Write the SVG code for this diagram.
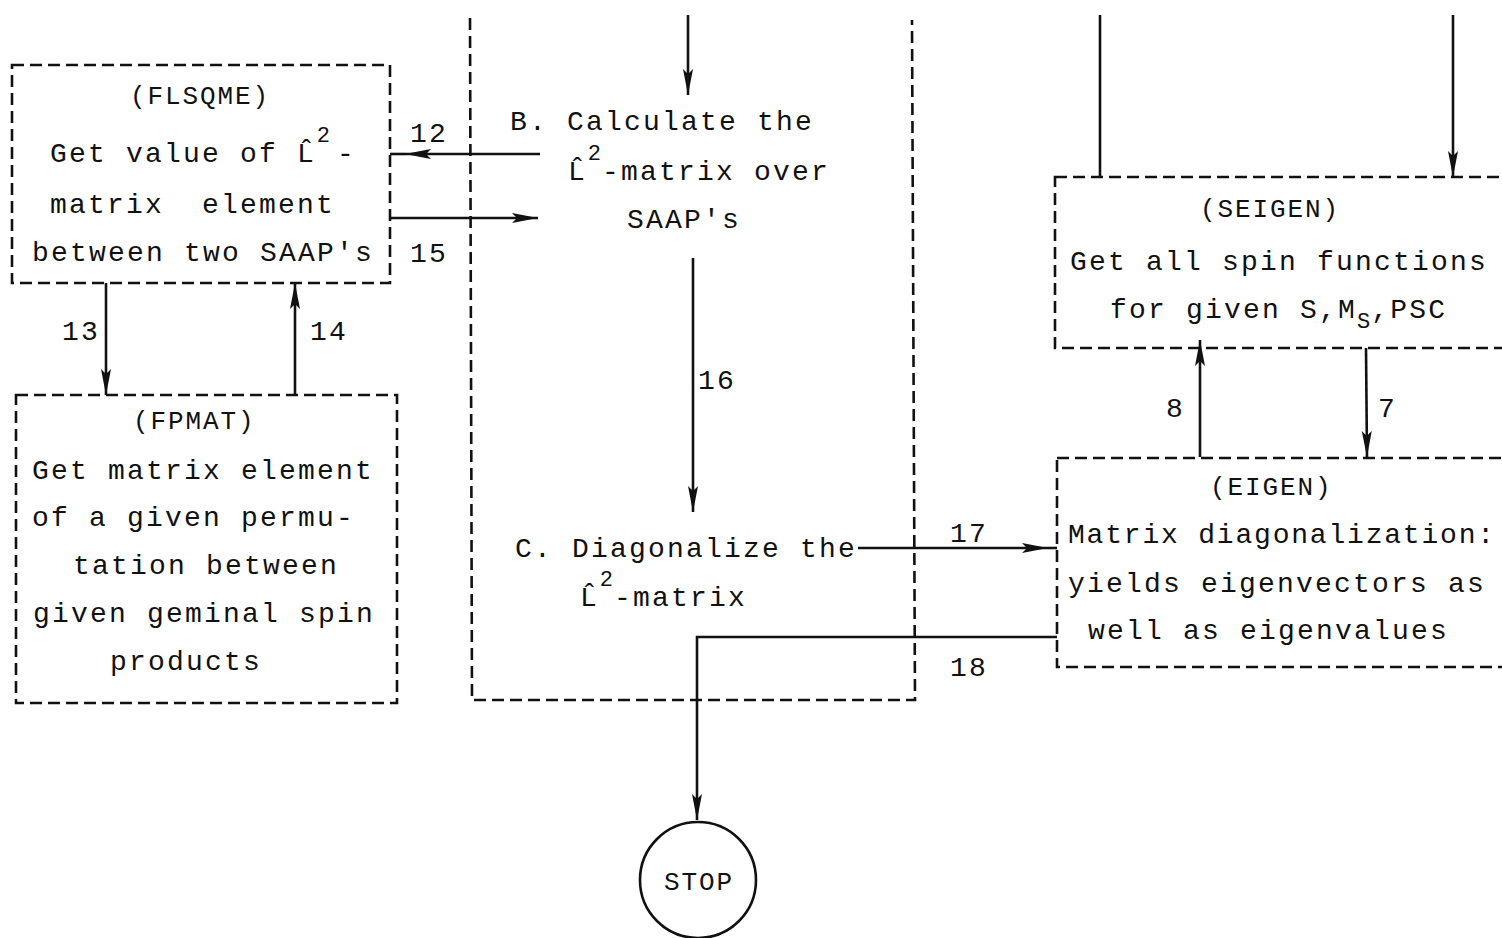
<svg xmlns="http://www.w3.org/2000/svg" width="1502" height="938" viewBox="0 0 1502 938">
<style>
.t{font-family:"Liberation Mono","DejaVu Sans Mono",monospace;font-size:28px;letter-spacing:2.2px;fill:#111;white-space:pre}
.n{font-family:"Liberation Mono","DejaVu Sans Mono",monospace;font-size:26px;letter-spacing:1.9px;fill:#111}
.sup{font-size:22px;letter-spacing:1px}
.l{letter-spacing:0}
.box{fill:none;stroke:#111;stroke-width:2.6;stroke-dasharray:12 6}
.c{fill:none;stroke:#111;stroke-width:2.6}
</style>
<defs>
<marker id="ah" markerUnits="userSpaceOnUse" markerWidth="28" markerHeight="12" refX="26" refY="6" orient="auto">
<path d="M0,1 L26,6 L0,11 L5,6 z" fill="#111"/>
</marker>
</defs>
<rect width="1502" height="938" fill="#fff"/>

<g id="flsqme">
<rect class="box" x="12" y="65" width="378" height="218"/>
<text class="n" x="130" y="104">(FLSQME)</text>
<text class="t" x="50" y="162">Get value of <tspan class="l">L&#x302;</tspan><tspan class="sup" dx="3" dy="-20">2</tspan><tspan dy="20" dx="6">-</tspan></text>
<text class="t" x="50" y="213" xml:space="preserve">matrix  element</text>
<text class="t" x="32" y="261">between two SAAP's</text>
</g>

<g id="fpmat">
<rect class="box" x="16" y="395" width="381" height="308"/>
<text class="n" x="133" y="429">(FPMAT)</text>
<text class="t" x="32" y="479">Get matrix element</text>
<text class="t" x="32" y="526">of a given permu-</text>
<text class="t" x="73" y="574">tation between</text>
<text class="t" x="33" y="622">given geminal spin</text>
<text class="t" x="110" y="670">products</text>
</g>

<g id="main">
<path class="box" d="M470,18 L472,700 L915,700 L912,20"/>
<text class="t" x="510" y="130">B. Calculate the</text>
<text class="t" x="568" y="180"><tspan class="l">L&#x302;</tspan><tspan class="sup" dx="3" dy="-20">2</tspan><tspan dy="20">-matrix over</tspan></text>
<text class="t" x="627" y="228">SAAP's</text>
<text class="t" x="515" y="557">C. Diagonalize the</text>
<text class="t" x="580" y="606"><tspan class="l">L&#x302;</tspan><tspan class="sup" dx="3" dy="-20">2</tspan><tspan dy="20">-matrix</tspan></text>
</g>

<g id="seigen">
<rect class="box" x="1055" y="177" width="500" height="171"/>
<text class="n" x="1200" y="217">(SEIGEN)</text>
<text class="t" x="1070" y="270">Get all spin functions</text>
<text class="t" x="1110" y="318">for given S,M<tspan class="sup" dy="10">S</tspan><tspan dy="-10">,PSC</tspan></text>
</g>

<g id="eigen">
<rect class="box" x="1057" y="458" width="500" height="209"/>
<text class="n" x="1210" y="495">(EIGEN)</text>
<text class="t" x="1068" y="543" style="letter-spacing:1.8px">Matrix diagonalization:</text>
<text class="t" x="1068" y="592">yields eigenvectors as</text>
<text class="t" x="1088" y="639">well as eigenvalues</text>
</g>

<g id="stop">
<circle cx="698" cy="880" r="58" fill="none" stroke="#111" stroke-width="2.6"/>
<text class="n" x="699" y="890" text-anchor="middle">STOP</text>
</g>

<g id="connectors">
<line class="c" x1="688" y1="15" x2="688" y2="95" marker-end="url(#ah)"/>
<line class="c" x1="540" y1="154" x2="405" y2="154" marker-end="url(#ah)"/>
<line class="c" x1="405" y1="154" x2="390" y2="154"/>
<line class="c" x1="390" y1="218" x2="538" y2="218" marker-end="url(#ah)"/>
<line class="c" x1="106" y1="283" x2="106" y2="395" marker-end="url(#ah)"/>
<line class="c" x1="295" y1="395" x2="295" y2="283" marker-end="url(#ah)"/>
<line class="c" x1="693" y1="258" x2="693" y2="512" marker-end="url(#ah)"/>
<line class="c" x1="858" y1="548" x2="1048" y2="548" marker-end="url(#ah)"/>
<line class="c" x1="1048" y1="548" x2="1057" y2="548"/>
<polyline class="c" points="1057,637 697,637 697,820" marker-end="url(#ah)"/>
<line class="c" x1="1100" y1="15" x2="1100" y2="177"/>
<line class="c" x1="1453" y1="15" x2="1453" y2="177" marker-end="url(#ah)"/>
<line class="c" x1="1200" y1="457" x2="1200" y2="340" marker-end="url(#ah)"/>
<line class="c" x1="1366" y1="348" x2="1367" y2="457" marker-end="url(#ah)"/>
<text class="t" x="410" y="142">12</text>
<text class="t" x="410" y="262">15</text>
<text class="t" x="62" y="340">13</text>
<text class="t" x="310" y="340">14</text>
<text class="t" x="698" y="389">16</text>
<text class="t" x="950" y="542">17</text>
<text class="t" x="950" y="676">18</text>
<text class="t" x="1166" y="417">8</text>
<text class="t" x="1378" y="417">7</text>
</g>
</svg>
